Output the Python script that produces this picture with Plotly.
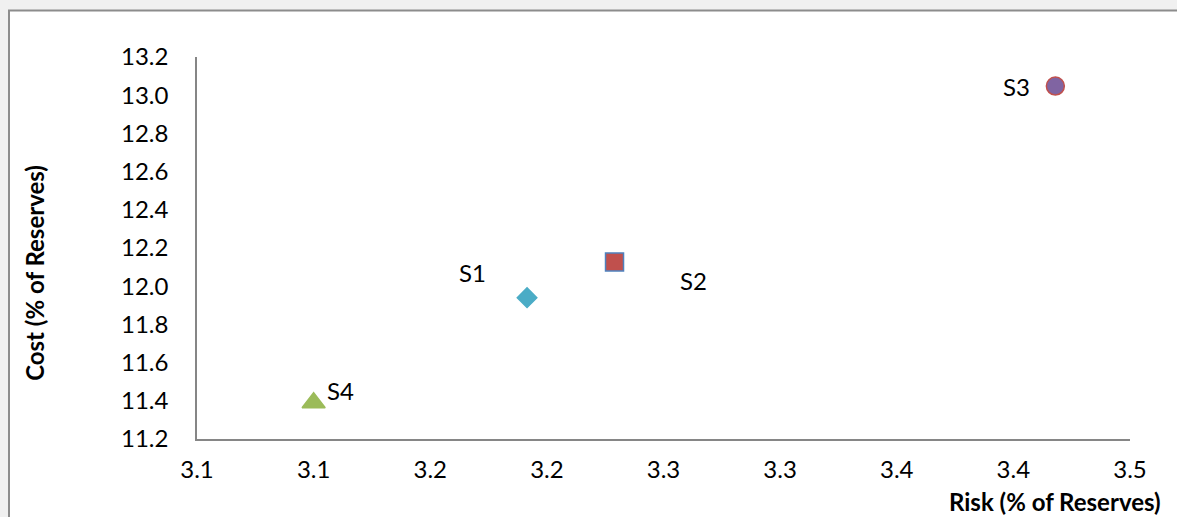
import plotly.graph_objects as go

# Strategy scenarios: risk vs cost, both as % of reserves
names = ["S1", "S2", "S3", "S4"]
risk = [3.1915, 3.229, 3.418, 3.100]
cost = [11.94, 12.127, 13.048, 11.39]

symbols = ["diamond", "square", "circle", "triangle-up"]
fills = ["#4BACC6", "#C0504D", "#8064A2", "#9BBB59"]
edges = ["#4BACC6", "#4F81BD", "#C0504D", "#9BBB59"]
sizes = [15, 18, 18, 20]
# label offsets (px) relative to each marker
label_dx = [-55, 79, -39, 27]
label_dy = [25, -19, 0, 12]

x_ticks = [3.05, 3.10, 3.15, 3.20, 3.25, 3.30, 3.35, 3.40, 3.45]
x_tick_text = ["3.1", "3.1", "3.2", "3.2", "3.3", "3.3", "3.4", "3.4", "3.5"]
y_ticks = [11.2, 11.4, 11.6, 11.8, 12.0, 12.2, 12.4, 12.6, 12.8, 13.0, 13.2]
y_tick_text = ["11.2", "11.4", "11.6", "11.8", "12.0", "12.2", "12.4", "12.6", "12.8", "13.0", "13.2"]

FONT = "Lato, sans-serif"
FS = 24

fig = go.Figure()
for i, n in enumerate(names):
    fig.add_trace(go.Scatter(
        x=[risk[i]], y=[cost[i]], mode="markers", name=n,
        marker=dict(symbol=symbols[i], size=sizes[i], color=fills[i],
                    line=dict(color=edges[i], width=1.5)),
        showlegend=False, hoverinfo="skip",
    ))
    fig.add_annotation(x=risk[i], y=cost[i], text=n, showarrow=False,
                       xshift=label_dx[i], yshift=label_dy[i],
                       font=dict(family=FONT, size=FS, color="#000000"))

# axis titles
fig.add_annotation(xref="paper", yref="paper", x=1.0354, y=-0.163,
                   xanchor="right", yanchor="middle", showarrow=False,
                   text="<b>Risk (% of Reserves)</b>",
                   font=dict(family=FONT, size=FS, color="#000000"))
fig.add_annotation(xref="paper", yref="paper", x=-0.1736, y=0.435,
                   xanchor="center", yanchor="middle", showarrow=False,
                   textangle=-90, text="<b>Cost (% of Reserves)</b>",
                   font=dict(family=FONT, size=FS, color="#000000"))

# chart frame
fig.add_shape(type="rect", xref="paper", yref="paper", layer="below",
              x0=-0.2015, x1=1.2, y0=-0.4, y1=1.122,
              fillcolor="#FFFFFF", line=dict(color="#8C8C8C", width=2))

fig.update_layout(
    width=1177, height=517,
    margin=dict(l=197, r=47, t=57, b=78),
    paper_bgcolor="#F0F0F0", plot_bgcolor="#FFFFFF",
    font=dict(family=FONT, size=FS, color="#000000"),
    xaxis=dict(range=[3.05, 3.45], tickvals=x_ticks, ticktext=x_tick_text,
               showgrid=False, zeroline=False, showline=True,
               linecolor="#868686", linewidth=1.5, ticks="",
               ticklabelstandoff=8, tickfont=dict(family=FONT, size=FS)),
    yaxis=dict(range=[11.2, 13.2], tickvals=y_ticks, ticktext=y_tick_text,
               showgrid=False, zeroline=False, showline=True,
               linecolor="#868686", linewidth=1.5, ticks="",
               ticklabelstandoff=22, tickfont=dict(family=FONT, size=FS)),
)

fig.write_html("out.html")
